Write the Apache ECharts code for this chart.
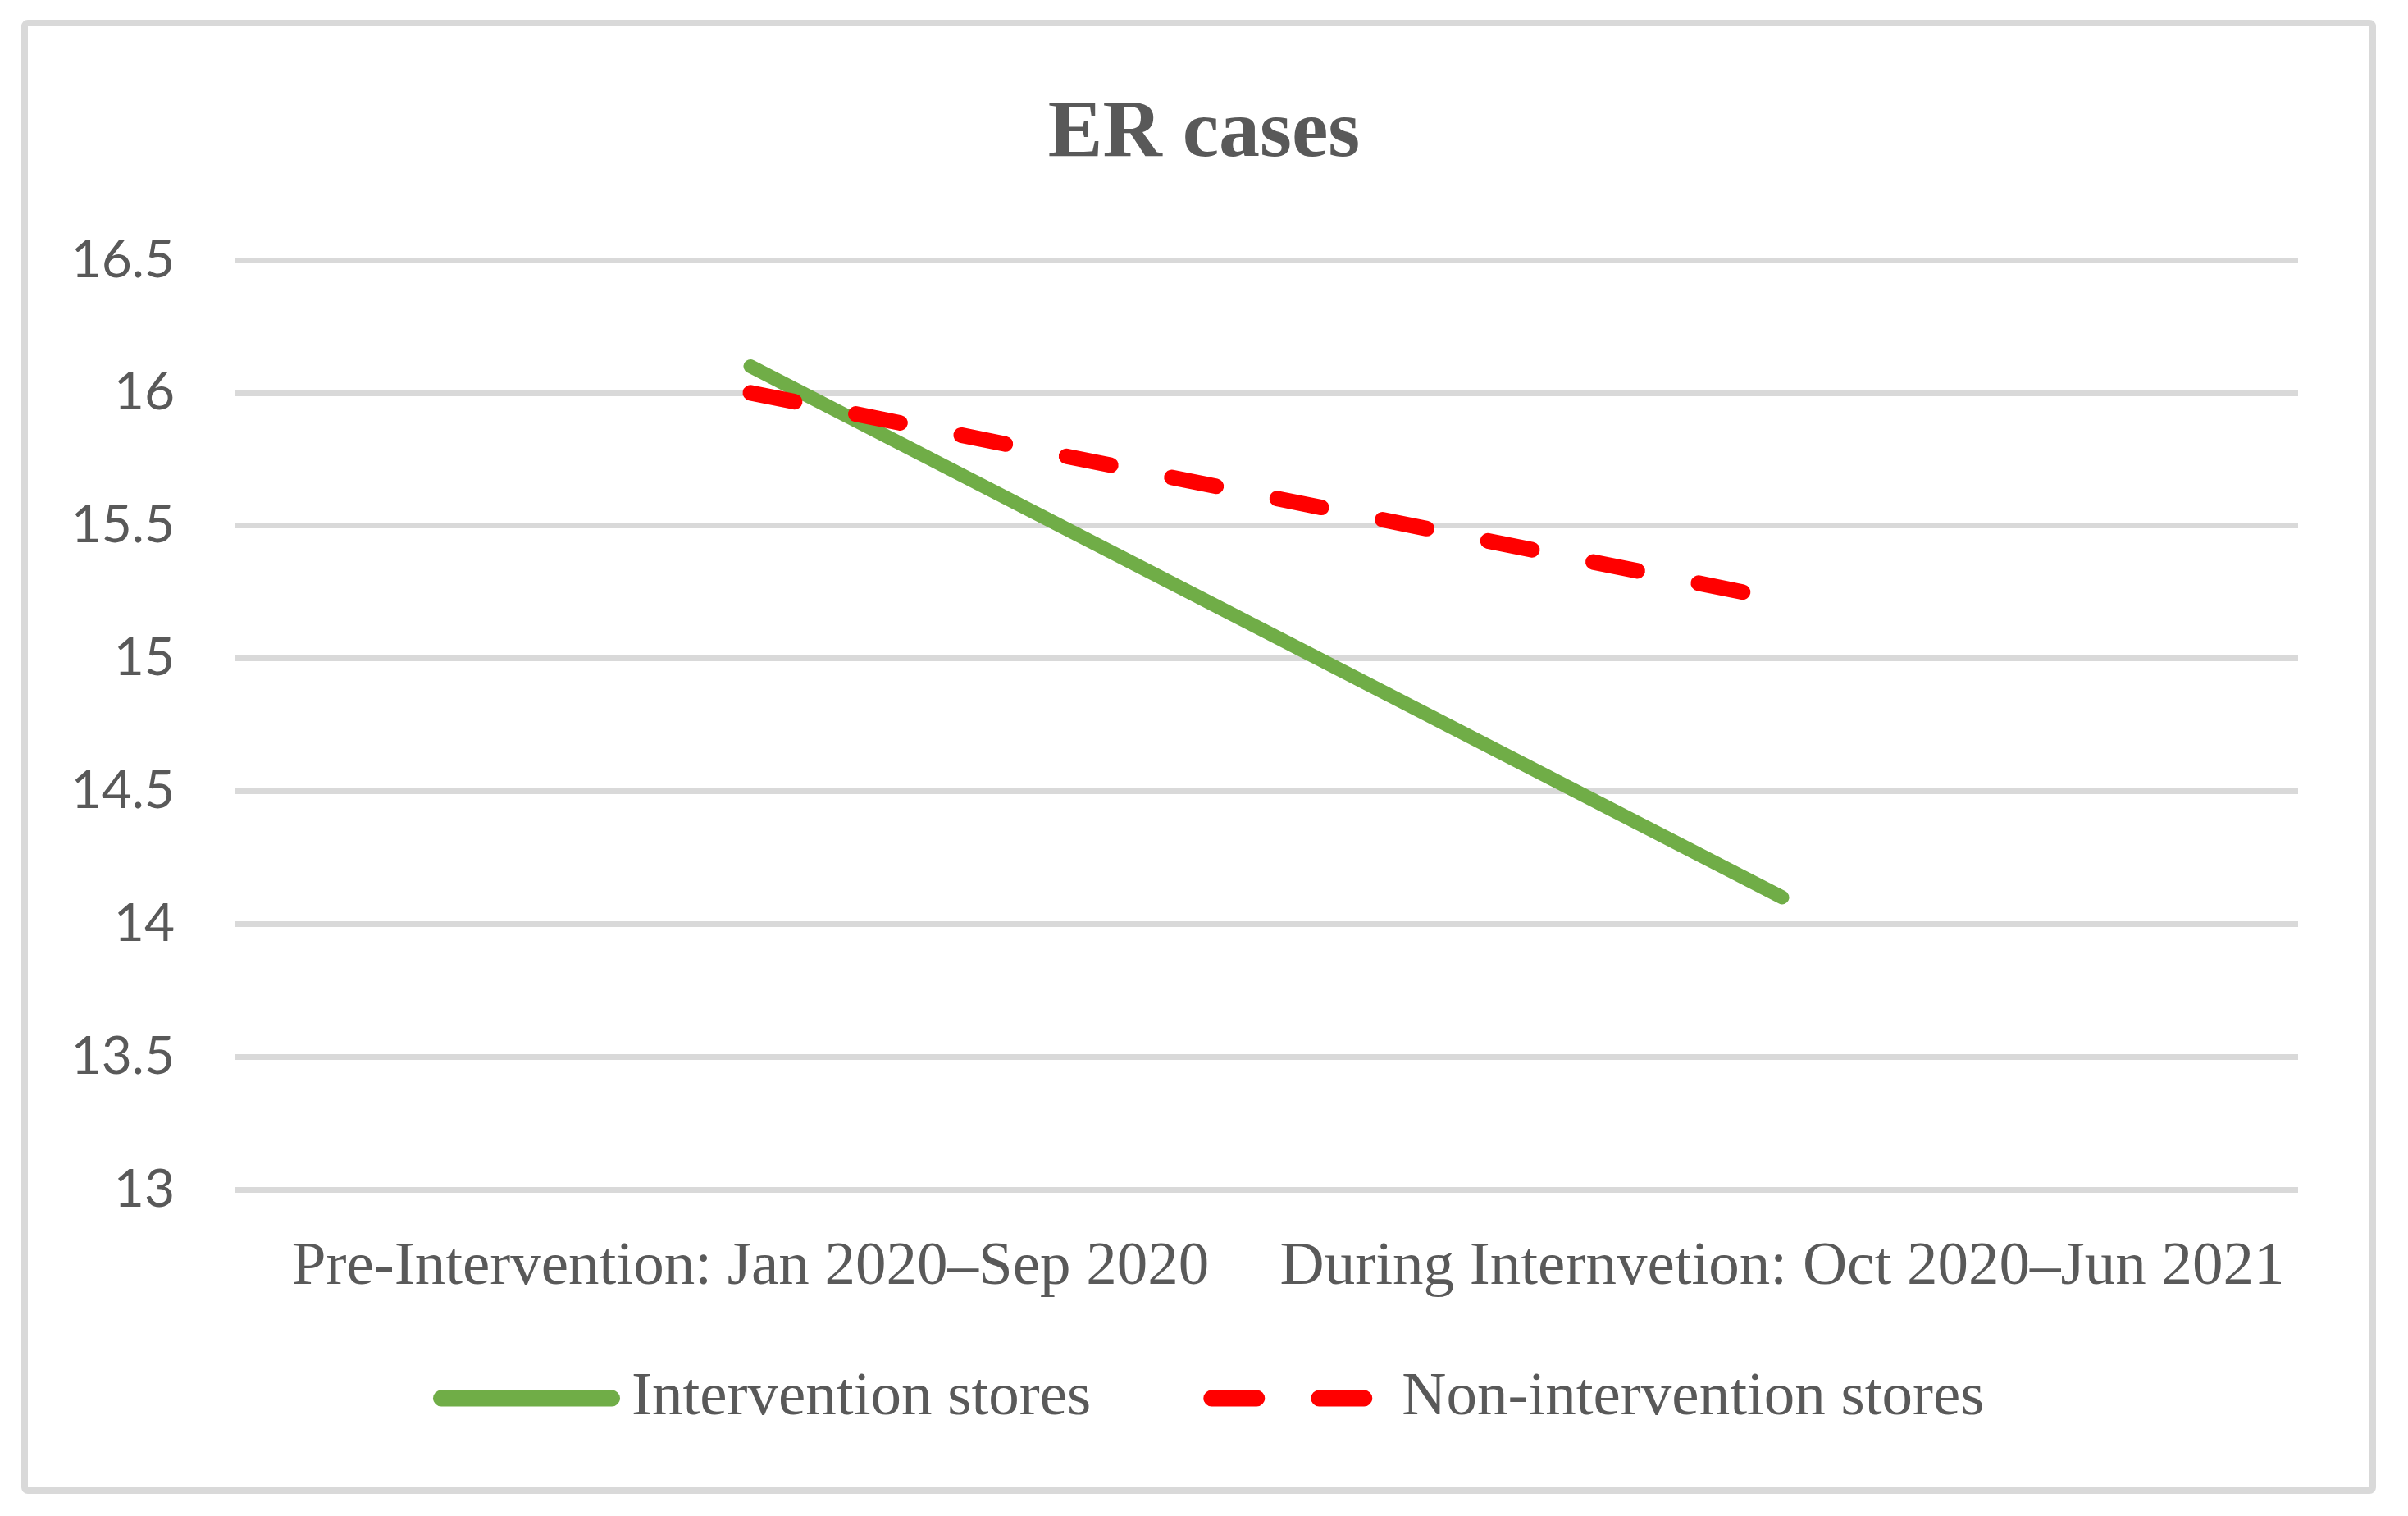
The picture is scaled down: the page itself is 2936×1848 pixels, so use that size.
<!DOCTYPE html>
<html>
<head>
<meta charset="utf-8">
<script src="https://cdn.jsdelivr.net/npm/echarts@6/dist/echarts.min.js"></script>
<style>
html,body{margin:0;padding:0;background:#fff;}
#c{width:2936px;height:1848px;}
</style>
</head>
<body>
<div id="c"></div>
<script>
const categories = ["Pre-Intervention: Jan 2020\u2013Sep 2020", "During Internvetion: Oct 2020\u2013Jun 2021"];
const interventionStores = [16.1, 14.1];
const nonInterventionStores = [16.0, 15.22];
const yMin = 13, yMax = 16.5, yStep = 0.5;

const greenIcon = 'path://M10 0 L218 0 A10 10 0 0 1 218 20 L10 20 A10 10 0 0 1 10 0 Z';
const redIcon = 'path://M10 0 L65 0 A10 10 0 0 1 65 20 L10 20 A10 10 0 0 1 10 0 Z ' +
                'M141 0 L196 0 A10 10 0 0 1 196 20 L141 20 A10 10 0 0 1 141 0 Z ' +
                'M228 10 L228 10 Z';

const chart = echarts.init(document.getElementById('c'));
chart.setOption({
  backgroundColor: '#ffffff',
  animation: false,
  title: {
    text: 'ER cases',
    left: 'center',
    top: 109,
    textStyle: {fontFamily: 'Liberation Serif', fontWeight: 'bold', fontSize: 100, color: '#595959'}
  },
  graphic: [{
    type: 'rect',
    shape: {x: 30, y: 28, width: 2863, height: 1789, r: 4},
    style: {fill: 'none', stroke: '#d9d9d9', lineWidth: 8},
    silent: true, z: -1
  }],
  legend: {
    left: 523,
    top: 1662,
    itemWidth: 228,
    itemHeight: 20,
    itemGap: 137,
    symbolKeepAspect: false,
    textStyle: {fontFamily: 'Liberation Serif', fontSize: 75, color: '#595959'},
    data: [
      {name: 'Intervention stores', icon: greenIcon, itemStyle: {color: '#70AD47'}, textStyle: {padding: [0, 0, 0, 9]}},
      {name: 'Non-intervention stores', icon: redIcon, itemStyle: {color: '#FF0000'}, textStyle: {padding: [0, 0, 0, 9]}}
    ]
  },
  grid: {left: 286, right: 134, top: 317, bottom: 398, containLabel: false},
  xAxis: {
    type: 'category',
    data: categories,
    boundaryGap: true,
    axisLine: {show: false},
    axisTick: {show: false},
    axisLabel: {fontFamily: 'Liberation Serif', fontSize: 75, color: '#595959', margin: 58, interval: 0}
  },
  yAxis: {
    type: 'value',
    min: yMin, max: yMax, interval: yStep,
    axisLine: {show: false},
    axisTick: {show: false},
    splitLine: {lineStyle: {color: '#d9d9d9', width: 7}},
    axisLabel: {fontFamily: 'Lato', fontSize: 64, color: '#595959', margin: 73}
  },
  series: [{
    name: 'Intervention stores',
    type: 'line',
    data: interventionStores,
    symbol: 'none',
    lineStyle: {color: '#70AD47', width: 17, cap: 'round'},
    itemStyle: {color: '#70AD47'}
  }, {
    name: 'Non-intervention stores',
    type: 'line',
    data: nonInterventionStores,
    symbol: 'none',
    lineStyle: {color: '#FF0000', width: 19, type: [55, 76], cap: 'round'},
    itemStyle: {color: '#FF0000'}
  }]
});
</script>
</body>
</html>
